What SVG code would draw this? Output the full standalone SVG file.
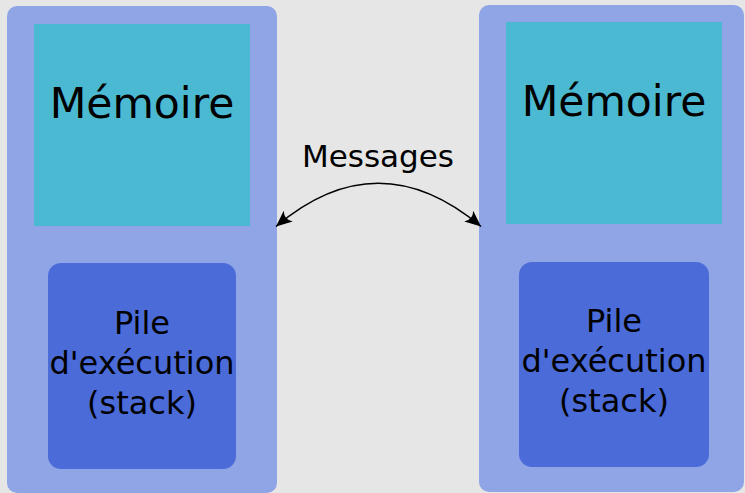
<svg xmlns="http://www.w3.org/2000/svg" width="745" height="493" viewBox="0 0 745 493">
  <style>
    .outer { fill: #8fa5e6; }
    .mem { fill: #4bb9d1; }
    .stk { fill: #4a6bd8; }
    text { font-family: "DejaVu Sans", sans-serif; fill: #000; text-anchor: middle; }
    .big { font-size: 42.5px; }
    .mid { font-size: 32px; }
    .lbl { font-size: 31px; }
    .conn { fill: none; stroke: #000; stroke-width: 1.6; }
  </style>
  <defs>
    <marker id="ah" markerUnits="userSpaceOnUse" viewBox="-18 -8 20 16" refX="0" refY="0" markerWidth="20" markerHeight="16" orient="auto-start-reverse">
      <path d="M0,0 L-16,-7 Q-10.5,0 -16,7 Z" fill="#000"/>
    </marker>
  </defs>
  <rect x="0" y="0" width="745" height="493" fill="#e6e6e6"/>

  <g id="process-left">
    <rect class="outer" x="7" y="6" width="270" height="487" rx="10"/>
    <g id="memory-left">
      <rect class="mem" x="34" y="24" width="216" height="202"/>
      <text class="big" x="142" y="118">Mémoire</text>
    </g>
    <g id="stack-left">
      <rect class="stk" x="48" y="263" width="188" height="206" rx="13"/>
      <text class="mid" x="142" y="334">Pile</text>
      <text class="mid" x="142" y="374">d'exécution</text>
      <text class="mid" x="142" y="414">(stack)</text>
    </g>
  </g>

  <g id="process-right">
    <rect class="outer" x="479" y="5" width="265" height="487" rx="10"/>
    <g id="memory-right">
      <rect class="mem" x="506" y="22" width="216" height="202"/>
      <text class="big" x="614" y="116">Mémoire</text>
    </g>
    <g id="stack-right">
      <rect class="stk" x="519" y="262" width="190" height="205" rx="13"/>
      <text class="mid" x="614" y="332">Pile</text>
      <text class="mid" x="614" y="372">d'exécution</text>
      <text class="mid" x="614" y="412">(stack)</text>
    </g>
  </g>

  <g id="connectors">
    <path class="conn" d="M276,226.5 Q378,140 481,226.5" marker-start="url(#ah)" marker-end="url(#ah)"/>
    <text class="lbl" x="378" y="167">Messages</text>
  </g>
</svg>
